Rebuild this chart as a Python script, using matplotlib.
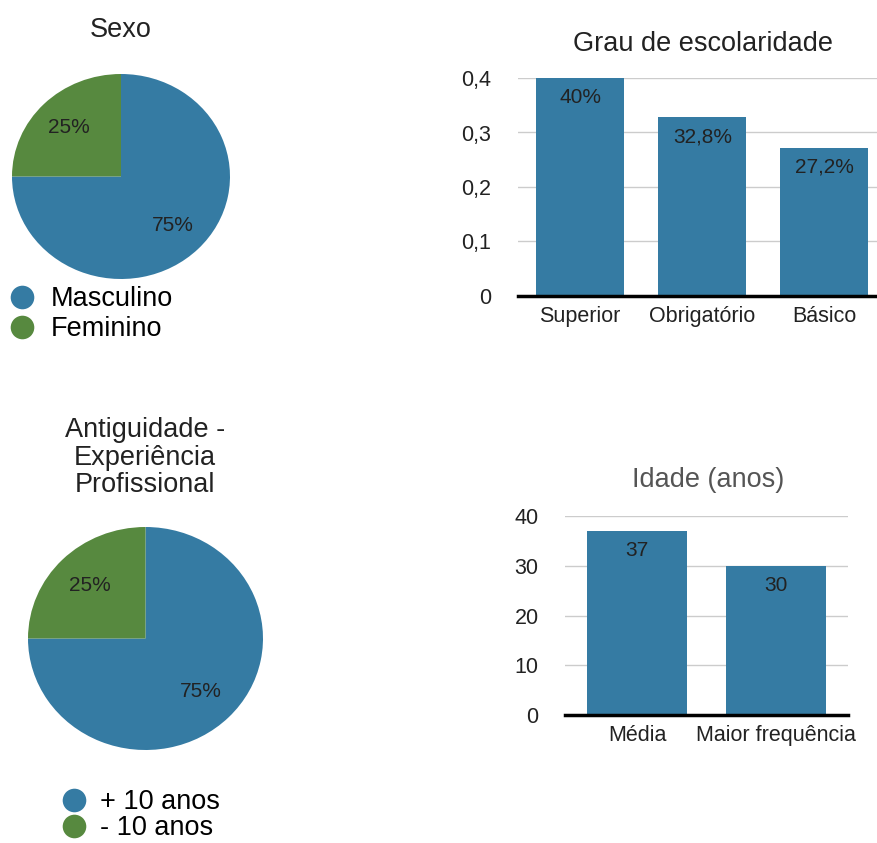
import matplotlib.pyplot as plt
from matplotlib.lines import Line2D

plt.rcParams['font.family'] = ['Liberation Sans', 'DejaVu Sans']

blue = '#357ba3'
green = '#57893f'
dark = '#222222'

# data
sexo_labels = ['Masculino', 'Feminino']
sexo_vals = [75, 25]

antig_labels = ['+ 10 anos', '- 10 anos']
antig_vals = [75, 25]

escol_cats = ['Superior', 'Obrigatório', 'Básico']
escol_vals = [0.40, 0.328, 0.272]
escol_text = ['40%', '32,8%', '27,2%']
escol_ticks = [0, 0.1, 0.2, 0.3, 0.4]
escol_ticklabels = ['0', '0,1', '0,2', '0,3', '0,4']

idade_cats = ['Média', 'Maior frequência']
idade_vals = [37, 30]
idade_ticks = [0, 10, 20, 30, 40]

W, H = 878, 843
fig = plt.figure(figsize=(W / 100, H / 100), dpi=100)


def box(l, t, r, b):
    return [l / W, 1 - b / H, (r - l) / W, (b - t) / H]


def pie_panel(rect, vals, labels, leg_xy, pad, spacing):
    ax = fig.add_axes(rect)
    wedges, _, autotexts = ax.pie(vals, colors=[blue, green], startangle=90, counterclock=False,
                                  autopct='%d%%', pctdistance=0.67, radius=1,
                                  textprops=dict(fontsize=15, color=dark))
    ax.set_aspect('auto')
    ax.set_xlim(-1, 1)
    ax.set_ylim(-1, 1)
    handles = [Line2D([], [], marker='o', linestyle='', markersize=17, color=c, markeredgewidth=0)
               for c in [blue, green]]
    fig.legend(handles, labels, loc='upper left', bbox_to_anchor=(leg_xy[0] / W, 1 - leg_xy[1] / H),
               frameon=False, fontsize=19.5, handlelength=0.85, handletextpad=pad,
               labelspacing=spacing, borderpad=0, borderaxespad=0)
    return ax


def bar_panel(rect, cats, vals, texts, ticks, ticklabels, xlim, ypad, xpad):
    ax = fig.add_axes(rect)
    x = list(range(len(cats)))
    bars = ax.bar(x, vals, width=0.72, color=blue, zorder=2)
    for t in ax.bar_label(bars, labels=texts, padding=-14, fontsize=15, color=dark):
        t.set_va('center')
    ax.set_xlim(*xlim)
    ax.set_ylim(0, ticks[-1])
    ax.set_yticks(ticks, ticklabels)
    ax.set_xticks(x, cats)
    ax.tick_params(axis='both', length=0, labelsize=15.5, labelcolor=dark)
    ax.tick_params(axis='y', pad=ypad)
    ax.tick_params(axis='x', pad=xpad)
    ax.grid(axis='y', color='#cccccc', linewidth=1, zorder=0)
    for s in ['top', 'right', 'left']:
        ax.spines[s].set_visible(False)
    ax.spines['bottom'].set_linewidth(2.5)
    ax.spines['bottom'].set_zorder(3)
    ax.set_axisbelow(True)
    return ax


# Sexo
pie_panel(box(12, 74, 230, 279), sexo_vals, sexo_labels, (10, 286), 0.65, 0.15)
fig.text(121 / W, 1 - 37 / H, 'Sexo', ha='center', va='baseline', fontsize=19.5, color=dark)

# Antiguidade
pie_panel(box(28, 527, 263, 750), antig_vals, antig_labels, (62, 789), 0.55, 0.0)
fig.text(145 / W, 1 - 417 / H, 'Antiguidade -\nExperiência\nProfissional', ha='center', va='top',
         fontsize=19.5, color=dark, linespacing=1.08)

# Grau de escolaridade
bar_panel(box(518, 78, 878, 296), escol_cats, escol_vals, escol_text,
          escol_ticks, escol_ticklabels, (-0.51, 2.44), 19.5, 7.5)
fig.text(703 / W, 1 - 51 / H, 'Grau de escolaridade', ha='center', va='baseline', fontsize=19.5, color=dark)

# Idade
bar_panel(box(565, 516, 848, 715), idade_cats, idade_vals, [str(v) for v in idade_vals],
          idade_ticks, [str(t) for t in idade_ticks], (-0.52, 1.52), 19, 7)
fig.text(708 / W, 1 - 487 / H, 'Idade (anos)', ha='center', va='baseline', fontsize=19.5, color='#555555')

fig.savefig('out.png', dpi=100)
